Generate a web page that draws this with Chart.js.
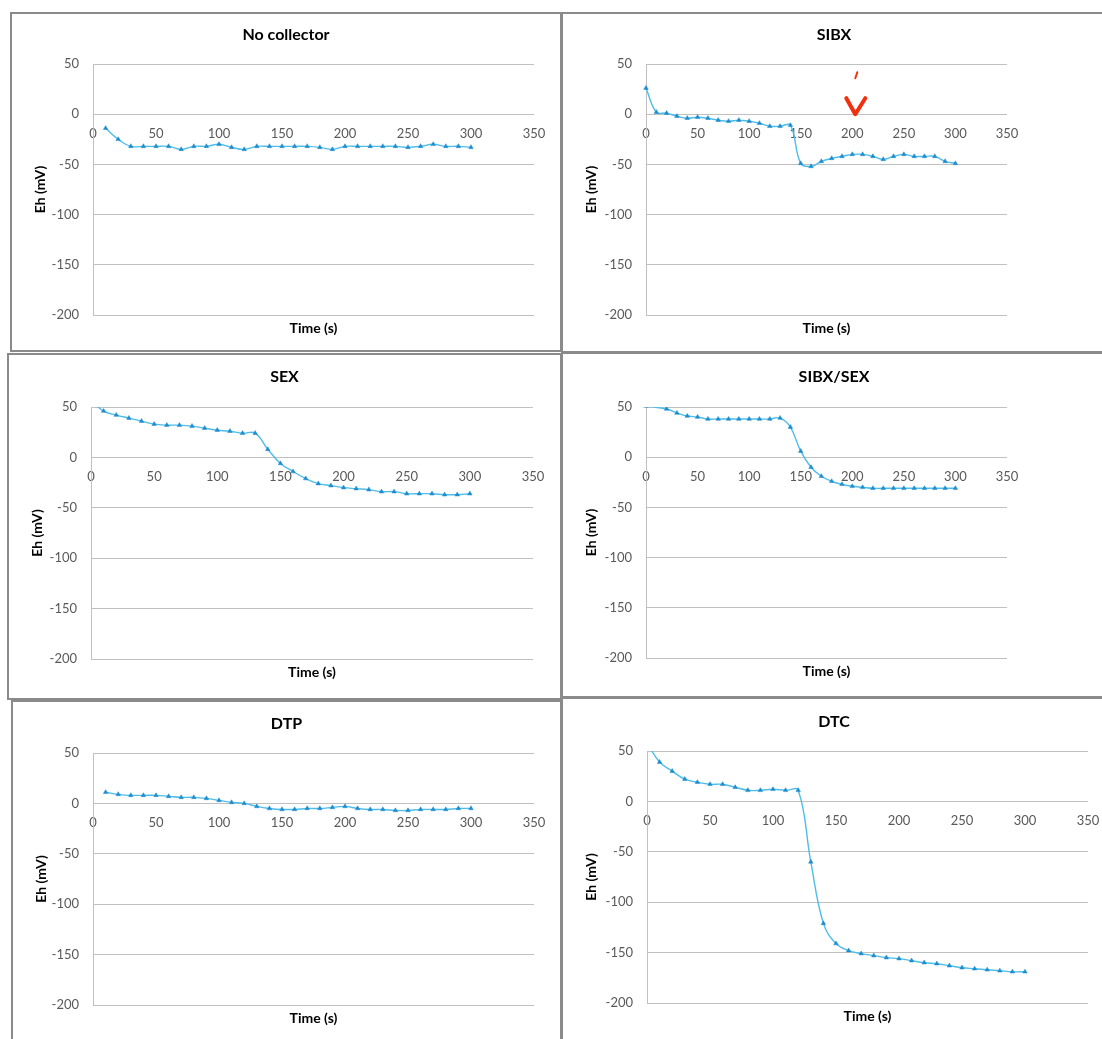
<!DOCTYPE html>
<html>
<head>
<meta charset="utf-8">
<title>Eh vs time</title>
<script src="https://cdn.jsdelivr.net/npm/chart.js@4.4.1/dist/chart.umd.min.js"></script>
<style>
  html, body { margin: 0; padding: 0; background: #fff; overflow: hidden; }
  body { width: 1102px; height: 1039px; position: relative; }
  .panel { position: absolute; border: 2px solid #8a8a8a; box-sizing: border-box; background: #fff; }
  .panel canvas { display: block; }
</style>
</head>
<body>
<div class="panel" style="left:10px;top:12px;width:552px;height:340px"><canvas id="c1"></canvas></div>
<div class="panel" style="left:561px;top:12px;width:546px;height:341px"><canvas id="c2"></canvas></div>
<div class="panel" style="left:7px;top:353px;width:555px;height:347px"><canvas id="c3"></canvas></div>
<div class="panel" style="left:561px;top:352px;width:546px;height:346px"><canvas id="c4"></canvas></div>
<div class="panel" style="left:11px;top:700px;width:551px;height:345px"><canvas id="c5"></canvas></div>
<div class="panel" style="left:561px;top:697px;width:546px;height:348px"><canvas id="c6"></canvas></div>
<script>
// axis ticks
var xTicks = [0, 50, 100, 150, 200, 250, 300, 350];
var yTicks = [50, 0, -50, -100, -150, -200];

// sampling times (s)
var timeFrom0 = [0, 10, 20, 30, 40, 50, 60, 70, 80, 90, 100, 110, 120, 130, 140, 150,
  160, 170, 180, 190, 200, 210, 220, 230, 240, 250, 260, 270, 280, 290, 300];
var timeFrom10 = [10, 20, 30, 40, 50, 60, 70, 80, 90, 100, 110, 120, 130, 140, 150,
  160, 170, 180, 190, 200, 210, 220, 230, 240, 250, 260, 270, 280, 290, 300];
var sibxSexTime = [0, 20, 30, 40, 50, 60, 70, 80, 90, 100, 110, 120, 130, 140, 150,
  160, 170, 180, 190, 200, 210, 220, 230, 240, 250, 260, 270, 280, 290, 300];

// Eh (mV)
var noCollector = [-14, -25, -32, -32, -32, -32, -35, -32, -32, -30, -33, -35, -32, -32, -32,
  -32, -32, -33, -35, -32, -32, -32, -32, -32, -33, -32, -30, -32, -32, -33];
var sibx = [26, 2, 1, -2, -4, -3, -4, -6, -7, -6, -7, -9, -12, -12, -11, -49,
  -52, -47, -44, -42, -40, -40, -42, -45, -42, -40, -42, -42, -42, -47, -49];
var sex = [56, 46, 42, 39, 36, 33, 32, 32, 31, 29, 27, 26, 24, 24, 8, -6,
  -14, -21, -26, -28, -30, -31, -32, -34, -34, -36, -36, -36, -37, -37, -36];
var sibxSex = [51, 48, 44, 41, 40, 38, 38, 38, 38, 38, 38, 38, 39, 30, 6,
  -10, -19, -24, -27, -29, -30, -31, -31, -31, -31, -31, -31, -31, -31, -31];
var dtp = [11, 9, 8, 8, 8, 7, 6, 6, 5, 3, 1, 0, -3, -5, -6,
  -6, -5, -5, -4, -3, -5, -6, -6, -7, -7, -6, -6, -6, -5, -5];
var dtc = [58, 39, 30, 22, 19, 17, 17, 14, 11, 11, 12, 11, 11, -60, -121, -141,
  -148, -151, -153, -155, -156, -158, -160, -161, -163, -165, -166, -167, -168, -169, -169];

var FONT = 'Lato, "Open Sans", sans-serif';

// chart title + "Time (s)" under the plot
var panelText = {
  id: 'panelText',
  afterDraw: function (chart, args, opts) {
    var ctx = chart.ctx, area = chart.chartArea;
    ctx.save();
    ctx.fillStyle = '#000';
    ctx.textAlign = 'center';
    ctx.textBaseline = 'middle';
    ctx.font = 'bold 16px ' + FONT;
    ctx.fillText(opts.title, chart.width / 2, opts.titleY);
    ctx.font = 'bold 14px ' + FONT;
    ctx.fillText('Time (s)', (area.left + area.right) / 2, area.bottom + 13);
    ctx.restore();
  }
};

// red pen mark near t = 200 on the SIBX panel
var penMark = {
  id: 'penMark',
  afterDraw: function (chart) {
    var ctx = chart.ctx;
    var x = chart.scales.x.getPixelForValue(200) + 3;
    var y = chart.scales.y.getPixelForValue(0) + 1;
    ctx.save();
    ctx.strokeStyle = '#f2300f';
    ctx.lineCap = 'round';
    ctx.lineJoin = 'round';
    ctx.lineWidth = 4;
    ctx.beginPath();
    ctx.moveTo(x - 9, y - 17);
    ctx.lineTo(x, y - 1);
    ctx.lineTo(x + 10, y - 17);
    ctx.stroke();
    ctx.lineWidth = 2;
    ctx.beginPath();
    ctx.moveTo(x + 2, y - 43);
    ctx.lineTo(x, y - 37);
    ctx.stroke();
    ctx.restore();
  }
};

function makePanel(id, title, times, values, box, extra) {
  var canvas = document.getElementById(id);
  canvas.width = box.w;
  canvas.height = box.h;
  var points = times.map(function (t, i) { return { x: t, y: values[i] }; });
  return new Chart(canvas.getContext('2d'), {
    type: 'line',
    data: {
      datasets: [{
        data: points,
        borderColor: '#4fbde9',
        borderWidth: 1.4,
        tension: 0.4,
        pointStyle: 'triangle',
        pointRadius: 2.6,
        pointBackgroundColor: '#1f8ccd',
        pointBorderColor: '#1f8ccd',
        pointBorderWidth: 0.5,
        fill: false,
        clip: { left: 6, top: 0, right: 6, bottom: 6 }
      }]
    },
    options: {
      responsive: false,
      animation: false,
      devicePixelRatio: 1,
      layout: {
        padding: { left: 0, top: box.top, right: box.w - box.right, bottom: box.h - box.bottom }
      },
      scales: {
        x: {
          type: 'linear',
          position: { y: 0 },
          min: 0,
          max: 350,
          afterBuildTicks: function (s) { s.ticks = xTicks.map(function (v) { return { value: v }; }); },
          grid: { display: false },
          border: { display: false },
          ticks: { color: '#595959', font: { family: FONT, size: 13 }, padding: 4, maxRotation: 0, autoSkip: false }
        },
        y: {
          min: -200,
          max: 50,
          afterBuildTicks: function (s) { s.ticks = yTicks.map(function (v) { return { value: v }; }); },
          afterFit: function (s) { s.width = box.left; },
          grid: { color: '#c0c0c0', lineWidth: 1, drawTicks: false },
          border: { display: true, color: '#c0c0c0', width: 1 },
          ticks: { color: '#595959', font: { family: FONT, size: 13 }, padding: 14 },
          title: {
            display: true,
            text: 'Eh (mV)',
            color: '#000',
            font: { family: FONT, size: 14, weight: 'bold' },
            padding: { top: 19.6, bottom: 0 }
          }
        }
      },
      plugins: {
        legend: { display: false },
        tooltip: { enabled: false },
        panelText: { title: title, titleY: box.titleY }
      }
    },
    plugins: [panelText].concat(extra || [])
  });
}

// box: canvas size and plot edges inside it
makePanel('c1', 'No collector', timeFrom10, noCollector,
  { w: 548, h: 336, left: 81, top: 50, right: 522, bottom: 301, titleY: 21 });
makePanel('c2', 'SIBX', timeFrom0, sibx,
  { w: 542, h: 337, left: 83, top: 50, right: 444, bottom: 301, titleY: 21 }, [penMark]);
makePanel('c3', 'SEX', timeFrom0, sex,
  { w: 551, h: 343, left: 82, top: 52, right: 524, bottom: 304, titleY: 22 });
makePanel('c4', 'SIBX/SEX', sibxSexTime, sibxSex,
  { w: 542, h: 342, left: 83, top: 53, right: 444, bottom: 304, titleY: 23 });
makePanel('c5', 'DTP', timeFrom10, dtp,
  { w: 547, h: 341, left: 80, top: 51, right: 521, bottom: 303, titleY: 22 });
makePanel('c6', 'DTC', timeFrom0, dtc,
  { w: 542, h: 344, left: 84, top: 52, right: 525, bottom: 304, titleY: 23 });
</script>
</body>
</html>
